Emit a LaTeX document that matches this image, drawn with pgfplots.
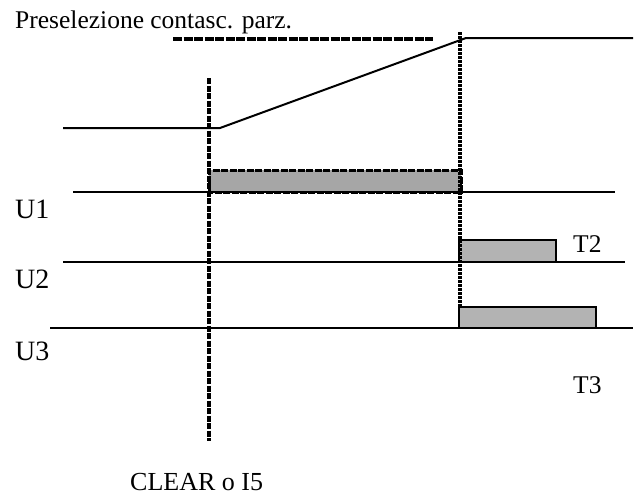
\documentclass[border=0pt]{standalone}
\usepackage{pgfplots}
\pgfplotsset{compat=1.18}
\usepackage{fontspec}
\setmainfont{Liberation Serif}
\definecolor{barA}{HTML}{A6A6A6}
\definecolor{barB}{HTML}{B3B3B3}
\begin{document}
\begin{tikzpicture}
\begin{axis}[
  scale only axis, width=635pt, height=496pt,
  xmin=0, xmax=635, ymin=0, ymax=496, y dir=reverse,
  hide axis, clip=false,
]
% gray bars
\addplot[fill=barA, draw=black, line width=3pt, dash pattern=on 7pt off 1.5pt] coordinates {(209,192) (209,170) (461,170) (461,192)} -- cycle;
\addplot[fill=barB, draw=black, line width=1.8pt] coordinates {(459,262) (459,240) (556,240) (556,262)} -- cycle;
\addplot[fill=barB, draw=black, line width=1.8pt] coordinates {(459,328) (459,307) (596,307) (596,328)} -- cycle;
% signal lines
\addplot[black, line width=2pt] coordinates {(63,128) (220,128) (466,38) (633,38)};
\addplot[black, line width=1.8pt] coordinates {(73,192) (615,192)};
\addplot[black, line width=1.8pt] coordinates {(63,262) (625,262)};
\addplot[black, line width=1.8pt] coordinates {(50,328) (633,328)};
% dashed guides
\addplot[black, line width=3.4pt, dash pattern=on 9pt off 1.5pt] coordinates {(173,39) (433,39)};
\addplot[black, line width=3.4pt, dash pattern=on 6pt off 1.5pt] coordinates {(209,78) (209,441)};
\addplot[black, line width=3.6pt, dash pattern=on 3pt off 1pt] coordinates {(460,32) (460,307)};
% labels
\node[anchor=base west, inner sep=0pt, font=\fontsize{25.5}{30}\selectfont] at (axis cs:15,28) {Preselezione contasc. parz.};
\node[anchor=base west, inner sep=0pt, font=\fontsize{28}{32}\selectfont] at (axis cs:15,218) {U1};
\node[anchor=base west, inner sep=0pt, font=\fontsize{28}{32}\selectfont] at (axis cs:15,288) {U2};
\node[anchor=base west, inner sep=0pt, font=\fontsize{28}{32}\selectfont] at (axis cs:15,360) {U3};
\node[anchor=base west, inner sep=0pt, font=\fontsize{25.5}{30}\selectfont] at (axis cs:573,252) {T2};
\node[anchor=base west, inner sep=0pt, font=\fontsize{25.5}{30}\selectfont] at (axis cs:573,393) {T3};
\node[anchor=base west, inner sep=0pt, font=\fontsize{26}{30}\selectfont] at (axis cs:130,490) {CLEAR o I5};
\end{axis}
\pgfresetboundingbox
\path (current axis.south west) rectangle (current axis.north east);
\end{tikzpicture}
\end{document}
